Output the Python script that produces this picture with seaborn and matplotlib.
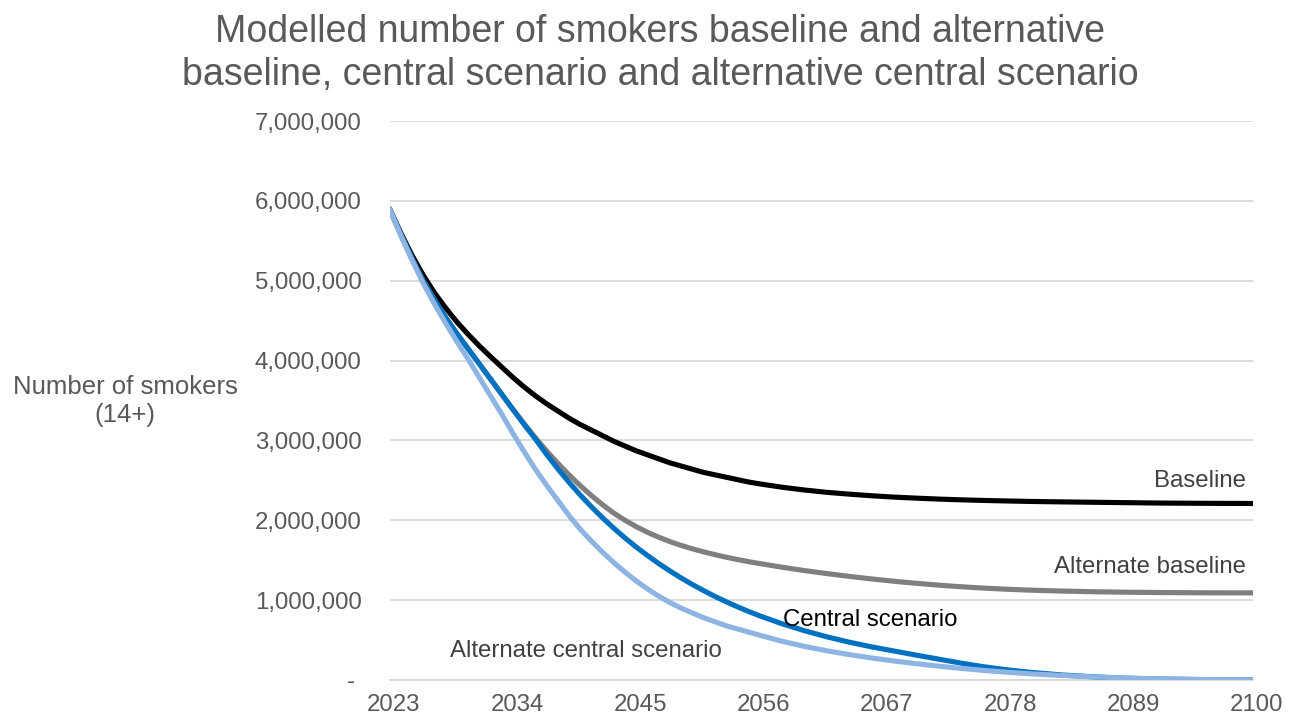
import matplotlib
matplotlib.use("Agg")
import matplotlib.pyplot as plt
import matplotlib.ticker as mticker
import matplotlib.transforms as mtransforms
import numpy as np
import pandas as pd
import seaborn as sns

# Projection years
years = list(range(2023, 2057)) + list(range(2058, 2081, 2)) + \
    [2083, 2086, 2089, 2092, 2096, 2100]

# Modelled smokers aged 14+ (millions)
baseline = [5.90, 5.60, 5.32, 5.07, 4.85, 4.66, 4.485, 4.33, 4.185, 4.05,
            3.92, 3.79, 3.67, 3.56, 3.46, 3.37, 3.28, 3.20, 3.13, 3.06,
            2.99, 2.93, 2.87, 2.82, 2.77, 2.72, 2.68, 2.64, 2.60, 2.57,
            2.54, 2.51, 2.48, 2.456,
            2.414, 2.379, 2.35, 2.327, 2.307, 2.29, 2.277, 2.265, 2.256, 2.248,
            2.242, 2.236,
            2.23, 2.225, 2.22, 2.215, 2.212, 2.21]
alt_baseline = [5.90, 5.58, 5.28, 5.00, 4.76, 4.54, 4.34, 4.15, 3.96, 3.77,
                3.58, 3.39, 3.21, 3.035, 2.87, 2.715, 2.57, 2.435, 2.31, 2.195,
                2.09, 2.00, 1.92, 1.85, 1.788, 1.733, 1.685, 1.643, 1.605, 1.57,
                1.538, 1.509, 1.482, 1.458,
                1.412, 1.37, 1.332, 1.297, 1.265, 1.236, 1.21, 1.187, 1.167, 1.15,
                1.136, 1.125,
                1.113, 1.104, 1.098, 1.094, 1.091, 1.09]
central = [5.90, 5.58, 5.28, 5.00, 4.76, 4.54, 4.34, 4.15, 3.96, 3.77,
           3.58, 3.39, 3.20, 3.02, 2.827, 2.646, 2.477, 2.318, 2.17, 2.031,
           1.901, 1.779, 1.665, 1.559, 1.459, 1.366, 1.278, 1.196, 1.12, 1.048,
           0.981, 0.918, 0.859, 0.804,
           0.704, 0.617, 0.54, 0.473, 0.414, 0.362, 0.31, 0.26, 0.21, 0.165,
           0.128, 0.097,
           0.062, 0.037, 0.02, 0.01, 0.003, 0.0]
alt_central = [5.90, 5.57, 5.26, 4.97, 4.71, 4.47, 4.24, 4.02, 3.79, 3.56,
               3.33, 3.09, 2.86, 2.64, 2.44, 2.25, 2.06, 1.89, 1.74, 1.60,
               1.47, 1.35, 1.24, 1.14, 1.05, 0.97, 0.90, 0.84, 0.78, 0.73,
               0.68, 0.64, 0.60, 0.56,
               0.485, 0.42, 0.365, 0.317, 0.275, 0.237, 0.203, 0.172, 0.144, 0.119,
               0.097, 0.078,
               0.055, 0.036, 0.022, 0.012, 0.004, 0.0]

series_names = ["Baseline", "Alternate baseline", "Central scenario",
                "Alternate central scenario"]
series_values = [baseline, alt_baseline, central, alt_central]
series_colors = ["#000000", "#7F7F7F", "#0070C0", "#8DB4E2"]

x_ticks = list(range(2023, 2101, 11))
y_ticks = list(range(0, 7_000_001, 1_000_000))

title = ("Modelled number of smokers baseline and alternative\n"
         "baseline, central scenario and alternative central scenario")
y_label = "Number of smokers\n(14+)"

frames = []
for name, vals in zip(series_names, series_values):
    frames.append(pd.DataFrame({"Year": years,
                                "Smokers": np.array(vals) * 1_000_000,
                                "Series": name}))
df = pd.concat(frames, ignore_index=True)

sns.set_style("white")
plt.rcParams["font.family"] = ["Liberation Sans", "DejaVu Sans"]

text_grey = "#595959"
label_grey = "#404040"
grid_grey = "#D9D9D9"
fs = 17.3

fig = plt.figure(figsize=(12.9, 7.21), dpi=100)
ax = fig.add_axes([0.302, 0.057, 0.669, 0.775])

sns.lineplot(data=df, x="Year", y="Smokers", hue="Series",
             hue_order=series_names, palette=series_colors,
             linewidth=3.7, legend=False, ax=ax, sort=True)
for ln in ax.get_lines():
    ln.set_solid_capstyle("round")
    ln.set_solid_joinstyle("round")

ax.set_xlim(2023, 2100)
ax.set_ylim(0, 7_000_000)
ax.set_xticks(x_ticks)
ax.set_yticks(y_ticks)
# accounting-style labels: zero shown as a dash
ax.yaxis.set_major_formatter(
    mticker.FuncFormatter(lambda v, p: "- " if v == 0 else f"{v:,.0f}"))

ax.grid(axis="y", color=grid_grey, linewidth=1.3)
ax.grid(axis="x", visible=False)
ax.set_axisbelow(True)
for side in ["left", "right", "top"]:
    ax.spines[side].set_visible(False)
ax.spines["bottom"].set_color(grid_grey)
ax.spines["bottom"].set_linewidth(1.3)
ax.spines["bottom"].set_zorder(0.5)

ax.tick_params(axis="x", which="major", direction="out", length=5,
               width=1.3, color=grid_grey, labelsize=fs,
               labelcolor=text_grey, pad=5)
ax.tick_params(axis="y", which="major", length=0, labelsize=fs,
               labelcolor=text_grey, pad=20)

# year labels sit a touch right of their ticks
shift = mtransforms.ScaledTranslation(3 / 72, 0, fig.dpi_scale_trans)
for lbl in ax.get_xticklabels():
    lbl.set_transform(lbl.get_transform() + shift)

ax.set_xlabel("")
ax.set_ylabel("")
fig.text(0.097, 0.444, y_label, ha="center", va="center",
         fontsize=18.5, color=text_grey, linespacing=1.2)

fig.text(0.512, 0.926, title, ha="center", va="center",
         fontsize=27, color=text_grey, linespacing=1.25)

# Series labels placed beside their curves
ax.text(2099.4, 2_490_000, "Baseline", ha="right", va="center",
        fontsize=fs, color=label_grey)
ax.text(2099.4, 1_410_000, "Alternate baseline", ha="right", va="center",
        fontsize=fs, color=label_grey)
ax.text(2058.1, 750_000, "Central scenario", ha="left", va="center",
        fontsize=fs, color="#000000")
ax.text(2028.4, 360_000, "Alternate central scenario", ha="left",
        va="center", fontsize=fs, color=label_grey)

fig.savefig("out.png", dpi=100, facecolor="white")
